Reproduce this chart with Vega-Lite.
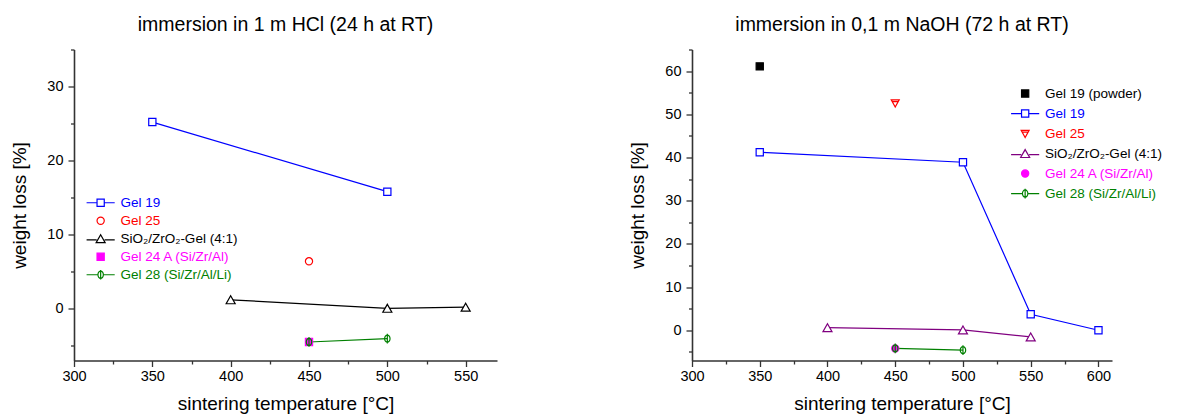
{
  "$schema": "https://vega.github.io/schema/vega-lite/v6.json",
  "background": "white",
  "padding": {"left": 10, "top": 14.5, "right": 0, "bottom": 0},
  "spacing": 131,
  "config": {
    "view": {"stroke": null},
    "font": "Liberation Sans",
    "axis": {
      "domainColor": "#333333", "domainWidth": 1.6, "tickColor": "#333333", "tickWidth": 1.3,
      "labelFont": "Liberation Sans", "labelFontSize": 14.5, "labelColor": "#000000",
      "titleFont": "Liberation Sans", "titleFontSize": 19, "titleFontWeight": "normal", "titleColor": "#000000",
      "grid": false, "labelFlush": false, "labelOverlap": false
    },
    "title": {"font": "Liberation Sans", "fontSize": 19.5, "fontWeight": "normal", "color": "#000000", "frame": "group", "anchor": "middle", "offset": 6},
    "legend": {"labelFont": "Liberation Sans", "labelFontSize": 13.5, "padding": 0, "symbolStrokeWidth": 1.2, "symbolSize": 52, "labelOffset": 13, "symbolOpacity": 1}
  },
  "resolve": {
    "scale": {"color": "independent", "fill": "independent", "stroke": "independent", "shape": "independent"},
    "legend": {"color": "independent", "fill": "independent", "stroke": "independent", "shape": "independent"}
  },
  "hconcat": [
    {
      "width": 423,
      "height": 311,
      "title": {"text": "immersion in 1 m HCl (24 h at RT)"},
      "data": {"values": [
        {"series": "Gel 19", "temp": 350, "loss": 25.2},
        {"series": "Gel 19", "temp": 500, "loss": 15.8},
        {"series": "Gel 25", "temp": 450, "loss": 6.4},
        {"series": "SiO₂/ZrO₂-Gel (4:1)", "temp": 400, "loss": 1.2},
        {"series": "SiO₂/ZrO₂-Gel (4:1)", "temp": 500, "loss": 0.05},
        {"series": "SiO₂/ZrO₂-Gel (4:1)", "temp": 550, "loss": 0.2},
        {"series": "Gel 24 A (Si/Zr/Al)", "temp": 450, "loss": -4.5},
        {"series": "Gel 28 (Si/Zr/Al/Li)", "temp": 450, "loss": -4.5},
        {"series": "Gel 28 (Si/Zr/Al/Li)", "temp": 500, "loss": -4.05}
      ]},
      "encoding": {
        "x": {"field": "temp", "type": "quantitative",
          "scale": {"domain": [300, 570], "nice": false, "zero": false},
          "axis": {"values": [300, 325, 350, 375, 400, 425, 450, 475, 500, 525, 550],
            "labelExpr": "datum.value % 50 === 0 ? datum.label : ''",
            "tickSize": {"condition": {"test": "datum.value % 50 === 0", "value": 6}, "value": 3.5},
            "labelPadding": 2.5, "title": "sintering temperature [°C]", "titlePadding": 12}},
        "y": {"field": "loss", "type": "quantitative",
          "scale": {"domain": [-7, 35], "nice": false, "zero": false},
          "axis": {"values": [-5, 0, 5, 10, 15, 20, 25, 30, 35],
            "labelExpr": "datum.value % 10 === 0 ? datum.label : ''",
            "tickSize": {"condition": {"test": "datum.value % 10 === 0", "value": 6}, "value": 3.5},
            "labelPadding": 5, "title": "weight loss [%]", "titlePadding": 17}}
      },
      "layer": [
        {
          "transform": [{"filter": {"field": "series", "oneOf": ["Gel 19", "SiO₂/ZrO₂-Gel (4:1)", "Gel 28 (Si/Zr/Al/Li)"]}}],
          "mark": {"type": "line", "strokeWidth": 1.2},
          "encoding": {"color": {"field": "series", "type": "nominal", "legend": null,
            "scale": {"domain": ["Gel 19", "SiO₂/ZrO₂-Gel (4:1)", "Gel 28 (Si/Zr/Al/Li)"], "range": ["#0000ff", "#000000", "#008000"]}}}
        },
        {
          "mark": {"type": "point", "opacity": 1, "strokeWidth": 1.2, "size": 52},
          "encoding": {
            "stroke": {"field": "series", "type": "nominal",
              "scale": {"domain": ["Gel 19", "Gel 25", "SiO₂/ZrO₂-Gel (4:1)", "Gel 24 A (Si/Zr/Al)", "Gel 28 (Si/Zr/Al/Li)"], "range": ["#0000ff", "#ff0000", "#000000", "#ff00ff", "#008000"]},
              "legend": {"orient": "none", "legendX": 19.9, "legendY": 146.5, "title": null, "rowPadding": 3,
                "encoding": {
                  "labels": {"fill": {"value": {"expr": "datum.value === 'Gel 19' ? '#0000ff' : datum.value === 'Gel 25' ? '#ff0000' : datum.value === 'Gel 24 A (Si/Zr/Al)' ? '#ff00ff' : datum.value === 'Gel 28 (Si/Zr/Al/Li)' ? '#008000' : '#000000'"}}},
                  "symbols": {
                    "fill": {"value": {"expr": "datum.value === 'Gel 24 A (Si/Zr/Al)' ? '#ff00ff' : '#ffffff'"}},
                    "shape": {"value": {"expr": "datum.value === 'Gel 19' ? 'M-3.9,0H-1M1,0H3.9M-1,-1H1V1H-1Z' : datum.value === 'Gel 25' ? 'circle' : datum.value === 'Gel 24 A (Si/Zr/Al)' ? 'square' : datum.value === 'Gel 28 (Si/Zr/Al/Li)' ? 'M-3.9,0H-0.75M0.75,0H3.9M0,-1.35V1.35M-0.75,0A0.75,1,0,1,1,0.75,0A0.75,1,0,1,1,-0.75,0' : 'M-3.9,0.3H-1.1M1.1,0.3H3.9M0,-1.1L1.25,1.1H-1.25Z'"}}}
                }}},
            "fill": {"field": "series", "type": "nominal", "legend": null,
              "scale": {"domain": ["Gel 28 (Si/Zr/Al/Li)", "Gel 24 A (Si/Zr/Al)", "SiO₂/ZrO₂-Gel (4:1)", "Gel 25", "Gel 19"], "range": ["transparent", "#ff00ff", "#ffffff", "#ffffff", "#ffffff"]}},
            "shape": {"field": "series", "type": "nominal", "legend": null,
              "scale": {"domain": ["Gel 25", "SiO₂/ZrO₂-Gel (4:1)", "Gel 24 A (Si/Zr/Al)", "Gel 28 (Si/Zr/Al/Li)", "Gel 19"], "range": ["circle", "M0,-1.1L1.25,1.1H-1.25Z", "square", "M0,-1.35V1.35M-0.75,0A0.75,1,0,1,1,0.75,0A0.75,1,0,1,1,-0.75,0", "square"]}}
          }
        }
      ]
    },
    {
      "width": 420,
      "height": 311,
      "title": {"text": "immersion in 0,1 m NaOH (72 h at RT)"},
      "data": {"values": [
        {"series": "Gel 19 (powder)", "temp": 350, "loss": 61.1},
        {"series": "Gel 19", "temp": 350, "loss": 41.2},
        {"series": "Gel 19", "temp": 500, "loss": 38.9},
        {"series": "Gel 19", "temp": 550, "loss": 3.7},
        {"series": "Gel 19", "temp": 600, "loss": 0},
        {"series": "Gel 25", "temp": 450, "loss": 52.6},
        {"series": "SiO₂/ZrO₂-Gel (4:1)", "temp": 400, "loss": 0.6},
        {"series": "SiO₂/ZrO₂-Gel (4:1)", "temp": 500, "loss": 0.07},
        {"series": "SiO₂/ZrO₂-Gel (4:1)", "temp": 550, "loss": -1.55},
        {"series": "Gel 24 A (Si/Zr/Al)", "temp": 450, "loss": -4.2},
        {"series": "Gel 28 (Si/Zr/Al/Li)", "temp": 450, "loss": -4.2},
        {"series": "Gel 28 (Si/Zr/Al/Li)", "temp": 500, "loss": -4.6}
      ]},
      "encoding": {
        "x": {"field": "temp", "type": "quantitative",
          "scale": {"domain": [300, 610], "nice": false, "zero": false},
          "axis": {"values": [300, 325, 350, 375, 400, 425, 450, 475, 500, 525, 550, 575, 600],
            "labelExpr": "datum.value % 50 === 0 ? datum.label : ''",
            "tickSize": {"condition": {"test": "datum.value % 50 === 0", "value": 6}, "value": 3.5},
            "labelPadding": 2.5, "title": "sintering temperature [°C]", "titlePadding": 12}},
        "y": {"field": "loss", "type": "quantitative",
          "scale": {"domain": [-7, 65], "nice": false, "zero": false},
          "axis": {"values": [-5, 0, 5, 10, 15, 20, 25, 30, 35, 40, 45, 50, 55, 60, 65],
            "labelExpr": "datum.value % 10 === 0 ? datum.label : ''",
            "tickSize": {"condition": {"test": "datum.value % 10 === 0", "value": 6}, "value": 3.5},
            "labelPadding": 5, "title": "weight loss [%]", "titlePadding": 17}}
      },
      "layer": [
        {
          "transform": [{"filter": {"field": "series", "oneOf": ["Gel 19", "SiO₂/ZrO₂-Gel (4:1)", "Gel 28 (Si/Zr/Al/Li)"]}}],
          "mark": {"type": "line", "strokeWidth": 1.2},
          "encoding": {"color": {"field": "series", "type": "nominal", "legend": null,
            "scale": {"domain": ["Gel 19", "SiO₂/ZrO₂-Gel (4:1)", "Gel 28 (Si/Zr/Al/Li)"], "range": ["#0000ff", "#800080", "#008000"]}}}
        },
        {
          "mark": {"type": "point", "opacity": 1, "strokeWidth": 1.2, "size": 52},
          "encoding": {
            "stroke": {"field": "series", "type": "nominal",
              "scale": {"domain": ["Gel 19 (powder)", "Gel 19", "Gel 25", "SiO₂/ZrO₂-Gel (4:1)", "Gel 24 A (Si/Zr/Al)", "Gel 28 (Si/Zr/Al/Li)"], "range": ["#000000", "#0000ff", "#ff0000", "#800080", "#ff00ff", "#008000"]},
              "legend": {"orient": "none", "legendX": 326.4, "legendY": 37.3, "title": null, "rowPadding": 5,
                "encoding": {
                  "labels": {"fill": {"value": {"expr": "datum.value === 'Gel 19' ? '#0000ff' : datum.value === 'Gel 25' ? '#ff0000' : datum.value === 'Gel 24 A (Si/Zr/Al)' ? '#ff00ff' : datum.value === 'Gel 28 (Si/Zr/Al/Li)' ? '#008000' : '#000000'"}}},
                  "symbols": {
                    "fill": {"value": {"expr": "datum.value === 'Gel 24 A (Si/Zr/Al)' ? '#ff00ff' : datum.value === 'Gel 19 (powder)' ? '#000000' : '#ffffff'"}},
                    "shape": {"value": {"expr": "datum.value === 'Gel 19' ? 'M-3.9,0H-1M1,0H3.9M-1,-1H1V1H-1Z' : datum.value === 'Gel 25' ? 'M-1.1,-0.9H1.1L0,1.1Z M-0.8,-0.4H0.8' : datum.value === 'Gel 24 A (Si/Zr/Al)' ? 'circle' : datum.value === 'Gel 19 (powder)' ? 'square' : datum.value === 'Gel 28 (Si/Zr/Al/Li)' ? 'M-3.9,0H-0.75M0.75,0H3.9M0,-1.35V1.35M-0.75,0A0.75,1,0,1,1,0.75,0A0.75,1,0,1,1,-0.75,0' : 'M-3.9,0.3H-1.1M1.1,0.3H3.9M0,-1.1L1.25,1.1H-1.25Z'"}}}
                }}},
            "fill": {"field": "series", "type": "nominal", "legend": null,
              "scale": {"domain": ["Gel 28 (Si/Zr/Al/Li)", "Gel 24 A (Si/Zr/Al)", "SiO₂/ZrO₂-Gel (4:1)", "Gel 25", "Gel 19", "Gel 19 (powder)"], "range": ["transparent", "#ff00ff", "#ffffff", "#ffffff", "#ffffff", "#000000"]}},
            "shape": {"field": "series", "type": "nominal", "legend": null,
              "scale": {"domain": ["Gel 19", "Gel 25", "SiO₂/ZrO₂-Gel (4:1)", "Gel 24 A (Si/Zr/Al)", "Gel 28 (Si/Zr/Al/Li)", "Gel 19 (powder)"], "range": ["square", "M-1.1,-0.9H1.1L0,1.1Z M-0.8,-0.4H0.8", "M0,-1.1L1.25,1.1H-1.25Z", "circle", "M0,-1.35V1.35M-0.75,0A0.75,1,0,1,1,0.75,0A0.75,1,0,1,1,-0.75,0", "square"]}}
          }
        }
      ]
    }
  ]
}
